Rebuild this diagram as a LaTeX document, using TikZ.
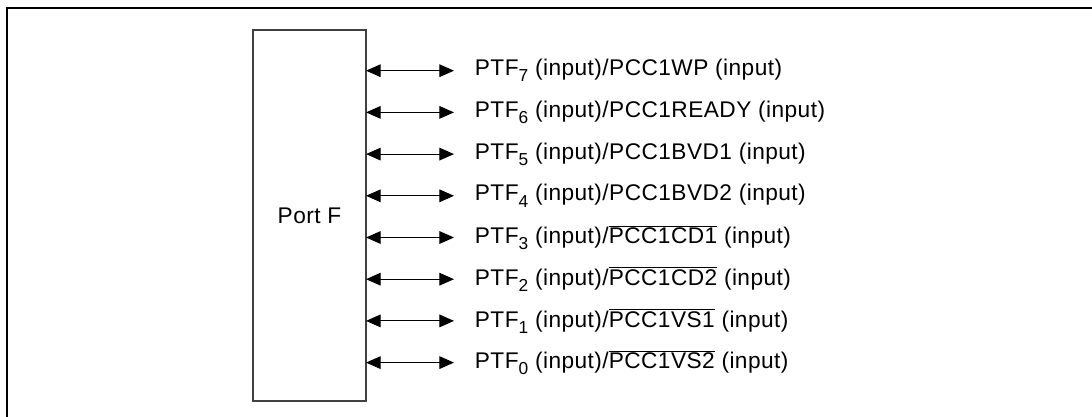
\documentclass[tikz,border=0pt]{standalone}
\usepackage{fontspec}
\setmainfont{Liberation Sans}[LetterSpace=2]
\usetikzlibrary{arrows.meta, positioning, calc}
\definecolor{Frame}{HTML}{000000}
\definecolor{Edge}{HTML}{404040}
\definecolor{Ink}{HTML}{000000}
\newcommand{\notsig}[1]{$\overline{\mbox{#1}}$}
\newcommand{\pinsub}[1]{\raisebox{-0.27em}{\fontsize{13}{13}\selectfont #1}}

\begin{document}
\begin{tikzpicture}[
  x=0.75pt, y=-0.75pt,
  font=\fontsize{17}{19}\selectfont,
  port/.style={
    rectangle,
    draw=Edge,
    line width=1.1pt,
    minimum width=84.75pt,
    minimum height=278.25pt,
    outer sep=0pt,
    text=Ink
  },
  pinlabel/.style={
    anchor=west,
    inner xsep=15.5pt,
    inner ysep=2pt,
    text=Ink
  },
  bidir/.style={
    {Triangle[length=11pt,width=9.5pt]}-{Triangle[length=11pt,width=9.5pt]},
    line width=0.8pt,
    draw=Ink
  }
]

\useasboundingbox (0,0) rectangle (1092,417);
\draw[Frame, line width=1.5pt] (7,417) -- (7,8) -- (1092,8);

\node[port] (portf) at (309.5,215.5) {Port F};

\foreach \i/\sig in {7/PCC1WP, 6/PCC1READY, 5/PCC1BVD1, 4/PCC1BVD2,
                     3/\notsig{PCC1CD1}, 2/\notsig{PCC1CD2},
                     1/\notsig{PCC1VS1}, 0/\notsig{PCC1VS2}} {
  \node[pinlabel] (ptf\i) at (454,{70.7+41.7*(7-\i)})
    {PTF\pinsub{\i} (input)/\sig{} (input)};
  \draw[bidir] (portf.east |- ptf\i.west) -- (ptf\i.west);
}

\end{tikzpicture}
\end{document}
